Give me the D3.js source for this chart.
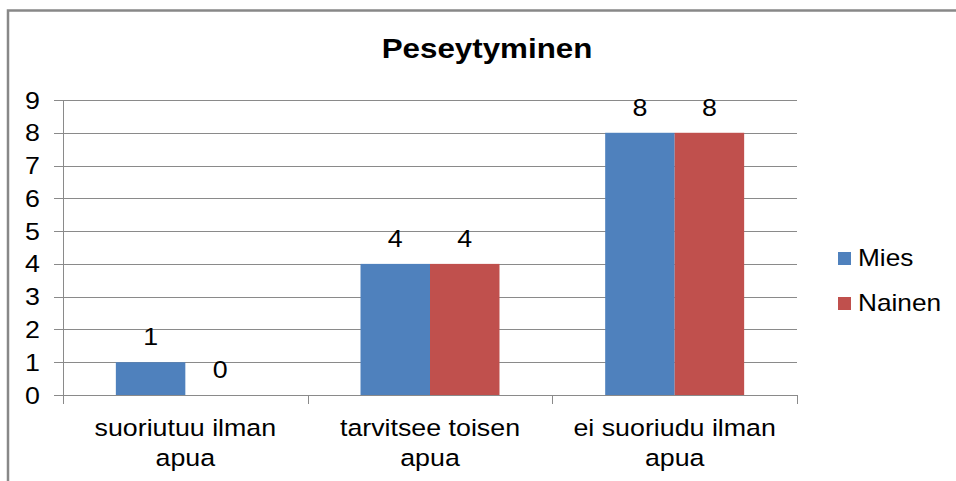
<!DOCTYPE html>
<html>
<head>
<meta charset="utf-8">
<script src="https://cdn.jsdelivr.net/npm/d3@7"></script>
<style>
  body { margin: 0; background: #fff; overflow: hidden; }
  text { font-family: "Liberation Sans", Arial, sans-serif; fill: #000; }
</style>
</head>
<body>
<script>
var categories = [["suoriutuu ilman", "apua"], ["tarvitsee toisen", "apua"], ["ei suoriudu ilman", "apua"]];
var seriesNames = ["Mies", "Nainen"];
var mies = [1, 4, 8];
var nainen = [0, 4, 8];
var yTicks = [0, 1, 2, 3, 4, 5, 6, 7, 8, 9];
var colors = ["#4F81BD", "#C0504D"];
var title = "Peseytyminen";

// text in the reference is a bit wider than Arial
var stretch = 1.14;

function addText(g, x, y, str, size, anchor) {
    return g.append("text")
        .attr("transform", "translate(" + x + "," + y + ") scale(" + stretch + ",1)")
        .attr("text-anchor", anchor || "middle")
        .style("font-size", size + "px")
        .text(str);
}

function drawChart() {
    var width = 956, height = 481;
    var left = 63, right = 797, top = 100, bottom = 395;

    var svg = d3.select("body").append("svg")
        .attr("width", width)
        .attr("height", height);

    // chart border (cropped at right and bottom)
    svg.append("rect")
        .attr("x", 8).attr("y", 10.5)
        .attr("width", 1200).attr("height", 1000)
        .attr("fill", "none")
        .attr("stroke", "#888")
        .attr("stroke-width", 2.5);

    var keys = categories.map(function (c) { return c.join(" "); });
    var data = keys.map(function (k, i) { return { key: k, lines: categories[i], values: [mies[i], nainen[i]] }; });

    var x = d3.scaleBand().domain(keys).range([left, right]).padding(0);
    var bw = x.bandwidth();
    var xs = d3.scaleBand().domain(seriesNames).range([bw * 0.216, bw * 0.784]).padding(0);
    var y = d3.scaleLinear().domain([0, 9]).range([bottom, top]);

    // gridlines + y ticks
    svg.append("g").selectAll("line")
        .data(yTicks)
        .join("line")
        .attr("x1", left - 9).attr("x2", right)
        .attr("y1", function (d) { return Math.round(y(d)) + 0.5; })
        .attr("y2", function (d) { return Math.round(y(d)) + 0.5; })
        .attr("stroke", "#8a8a8a")
        .attr("stroke-width", 1);

    yTicks.forEach(function (d) {
        addText(svg, 40, y(d) + 8.5, d, 23.5, "end");
    });

    // axes
    svg.append("line")
        .attr("x1", left + 0.5).attr("x2", left + 0.5)
        .attr("y1", top).attr("y2", bottom)
        .attr("stroke", "#8a8a8a");

    var bounds = keys.map(function (k) { return x(k); }).concat([right]);
    svg.append("g").selectAll("line")
        .data(bounds)
        .join("line")
        .attr("x1", function (d) { return Math.round(d) + 0.5; })
        .attr("x2", function (d) { return Math.round(d) + 0.5; })
        .attr("y1", bottom).attr("y2", bottom + 9)
        .attr("stroke", "#8a8a8a");

    // bars
    var groups = svg.append("g").selectAll("g")
        .data(data)
        .join("g")
        .attr("transform", function (d) { return "translate(" + x(d.key) + ",0)"; });

    groups.selectAll("rect")
        .data(function (d) { return d.values.map(function (v, i) { return { name: seriesNames[i], value: v, color: colors[i] }; }); })
        .join("rect")
        .attr("x", function (d) { return xs(d.name); })
        .attr("width", xs.bandwidth())
        .attr("y", function (d) { return y(d.value); })
        .attr("height", function (d) { return bottom - y(d.value); })
        .attr("fill", function (d) { return d.color; });

    // data labels
    data.forEach(function (d) {
        d.values.forEach(function (v, i) {
            addText(svg, x(d.key) + xs(seriesNames[i]) + xs.bandwidth() / 2, y(v) - 17, v, 23.5);
        });
    });

    // category labels
    data.forEach(function (d) {
        var cx = x(d.key) + bw / 2;
        addText(svg, cx, 436, d.lines[0], 23.5);
        addText(svg, cx, 466, d.lines[1], 23.5);
    });

    // title
    addText(svg, 487, 58, title, 27.5).style("font-weight", "bold");

    // legend
    seriesNames.forEach(function (name, i) {
        var ly = 252 + i * 45;
        svg.append("rect")
            .attr("x", 838).attr("y", ly)
            .attr("width", 13).attr("height", 13)
            .attr("fill", colors[i]);
        addText(svg, 858, ly + 14, name, 23, "start");
    });
}

drawChart();
</script>
</body>
</html>
